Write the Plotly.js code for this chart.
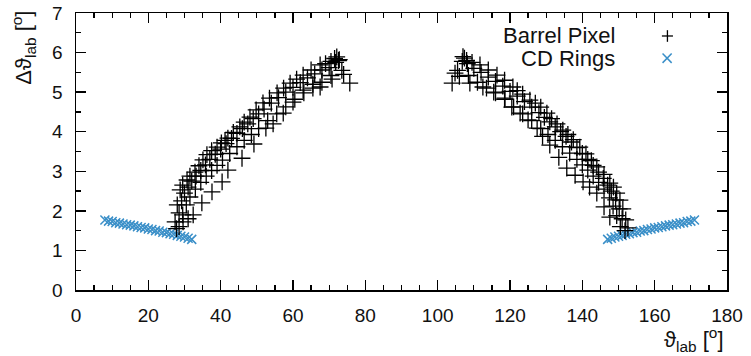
<!DOCTYPE html>
<html>
<head>
<meta charset="utf-8">
<script src="https://cdn.plot.ly/plotly-3.0.1.min.js"></script>
<style>html,body{margin:0;padding:0;background:#fff;}#chart{width:751px;height:356px;}</style>
</head>
<body>
<div id="chart"></div>
<script>
// ---- Barrel Pixel, left branch (several bands) ----
var bpLeftAx = [27.4,28.0,28.8,29.5,30.7,31.5,32.9,34.0,35.1,36.2,37.5,39.0,40.2,41.2,42.0,43.5,45.3,46.5,48.1,49.8,51.7,53.5,55.6,57.4,59.2,61.0,62.8,65.0,67.5,69.0,70.5,71.5,72.1,72.6];
var bpLeftAy = [1.72,2.15,2.53,2.65,2.78,2.88,2.98,3.14,3.29,3.42,3.52,3.61,3.72,3.78,3.84,3.98,4.12,4.24,4.37,4.55,4.73,4.85,4.98,5.10,5.23,5.33,5.43,5.56,5.69,5.72,5.78,5.85,5.89,5.80];
var bpLeftBx = [27.8,28.5,29.2,30.0,31.0,32.0,33.2,34.5,35.8,37.0,38.5,40.0,41.5,43.0,44.5,46.0,47.5,49.0,50.5,52.0,54.0,56.0,58.0,60.0,62.0,64.0,66.0,68.0,70.0,71.8,72.8];
var bpLeftBy = [1.55,1.95,2.25,2.45,2.60,2.75,2.88,3.02,3.16,3.30,3.43,3.56,3.70,3.83,3.96,4.08,4.20,4.33,4.45,4.57,4.72,4.86,5.00,5.12,5.24,5.36,5.46,5.56,5.62,5.75,5.82];
var bpLeftCx = [28.5,29.5,30.5,31.5,33.0,34.5,36.0,37.5,39.0,40.5,42.5,44.5,46.5,48.5,50.5,53.0,55.5,58.0,60.5,63.0,65.5,68.0,70.5,73.5];
var bpLeftCy = [1.60,1.90,2.15,2.35,2.55,2.72,2.88,3.02,3.15,3.28,3.45,3.62,3.78,3.93,4.08,4.28,4.45,4.63,4.82,4.98,5.10,5.25,5.42,5.55];
var bpLeftDx = [29.6,31.0,32.4,34.8,37.6,40.4,42.0,45.9,49.2,52.5,54.5,57.3,60.0,62.8,65.5,67.5,70.8,74.0,75.7];
var bpLeftDy = [1.72,1.80,1.90,2.20,2.48,2.73,3.03,3.33,3.69,4.09,4.20,4.47,4.75,5.05,5.20,5.13,5.33,5.45,5.23];

// ---- Barrel Pixel, right branch ----
var bpRightAx = [152.6,152.0,151.2,150.4,149.5,148.6,147.6,146.0,144.0,142.5,141.0,139.3,137.5,136.0,134.6,133.0,131.5,130.2,128.5,127.0,125.5,123.5,122.0,120.8,118.5,116.4,114.0,111.7,109.5,108.0,107.4,107.0];
var bpRightAy = [1.57,1.77,2.05,2.27,2.45,2.60,2.70,2.92,3.11,3.27,3.44,3.61,3.80,3.93,4.04,4.20,4.33,4.47,4.62,4.72,4.80,4.95,5.04,5.13,5.30,5.43,5.56,5.69,5.75,5.80,5.86,5.90];
var bpRightBx = [151.8,151.0,150.2,149.2,148.0,147.0,145.8,144.5,143.0,141.5,140.0,138.5,137.0,135.5,134.0,132.5,131.0,129.5,128.0,126.0,124.0,122.0,120.0,118.0,116.0,114.0,112.0,110.0,108.2,106.8];
var bpRightBy = [1.50,1.80,2.05,2.28,2.50,2.65,2.82,2.98,3.15,3.30,3.45,3.60,3.74,3.88,4.00,4.12,4.25,4.36,4.48,4.62,4.76,4.90,5.02,5.15,5.27,5.38,5.50,5.60,5.72,5.78];
var bpRightCx = [150.5,149.5,148.5,147.5,146.0,144.5,143.0,141.5,140.0,138.5,136.5,134.5,132.5,130.5,128.5,126.0,123.5,121.0,118.5,116.0,113.5,111.0,108.5,105.5];
var bpRightCy = [1.60,1.88,2.12,2.33,2.55,2.72,2.88,3.03,3.16,3.30,3.46,3.62,3.78,3.93,4.08,4.28,4.45,4.63,4.82,4.98,5.10,5.25,5.42,5.55];
var bpRightDx = [147.6,146.0,144.0,142.0,140.2,138.0,135.7,133.5,131.0,129.0,127.5,125.0,122.8,120.5,118.6,115.5,112.5,108.9,106.0,104.8,104.0];
var bpRightDy = [1.84,2.10,2.45,2.60,2.73,2.90,3.08,3.35,3.66,3.88,4.09,4.30,4.47,4.62,4.85,5.00,5.13,5.23,5.40,5.48,5.23];

// ---- CD Rings ----
var cdLeftX = [8,9,10,11,12,13,14,15,16,17,18,19,20,21,22,23,24,25,26,27,28,29,30,31,32];
var cdLeftY = [1.77,1.74,1.73,1.70,1.69,1.67,1.65,1.64,1.62,1.60,1.58,1.57,1.54,1.53,1.50,1.49,1.46,1.45,1.42,1.41,1.38,1.36,1.34,1.31,1.28];
var cdRightX = [147,148,149,150,151,152,153,154,155,156,157,158,159,160,161,162,163,164,165,166,167,168,169,170,171];
var cdRightY = [1.28,1.31,1.34,1.36,1.38,1.41,1.42,1.45,1.46,1.49,1.50,1.53,1.54,1.57,1.58,1.60,1.62,1.64,1.65,1.67,1.69,1.70,1.73,1.74,1.77];

var legendNames = ["Barrel Pixel", "CD Rings"];
var xTicks = [0,20,40,60,80,100,120,140,160,180];
var yTicks = [0,1,2,3,4,5,6,7];

var bpColor = "#000000";
var cdColor = "#3a8fc8";

var bpX = [].concat(bpLeftAx, bpLeftBx, bpLeftCx, bpLeftDx, bpRightAx, bpRightBx, bpRightCx, bpRightDx);
var bpY = [].concat(bpLeftAy, bpLeftBy, bpLeftCy, bpLeftDy, bpRightAy, bpRightBy, bpRightCy, bpRightDy);
var cdX = [].concat(cdLeftX, cdRightX);
var cdY = [].concat(cdLeftY, cdRightY);

var traces = [
  {x: cdX, y: cdY, type: "scatter", mode: "markers", name: legendNames[1], showlegend: false,
   marker: {symbol: "x-thin-open", size: 9, color: cdColor, line: {color: cdColor, width: 1.5}}},
  {x: bpX, y: bpY, type: "scatter", mode: "markers", name: legendNames[0], showlegend: false,
   marker: {symbol: "cross-thin-open", size: 12, color: bpColor, line: {color: bpColor, width: 1.3}}}
];

var fam = "Liberation Sans, Arial, Helvetica, sans-serif";
var tickFont = {family: fam, size: 19, color: "#111"};
var bigFont = {family: fam, size: 22, color: "#111"};

var axisCommon = {
  showline: true, linecolor: "#000", linewidth: 1.5, mirror: "ticks",
  ticks: "inside", tickcolor: "#000", tickwidth: 1.3, ticklen: 10,
  showgrid: false, zeroline: false, tickfont: tickFont
};

var layout = {
  width: 751, height: 356,
  margin: {l: 76, r: 24, t: 13, b: 66},
  paper_bgcolor: "#fff", plot_bgcolor: "#fff",
  font: tickFont,
  showlegend: false,
  xaxis: Object.assign({}, axisCommon, {
    range: [0, 180], tickvals: xTicks, ticktext: xTicks.map(String), ticklabelstandoff: 8,
    minor: {dtick: 5, tick0: 0, ticks: "inside", ticklen: 5, tickwidth: 1.2, tickcolor: "#000", showgrid: false}
  }),
  yaxis: Object.assign({}, axisCommon, {
    range: [0, 7], tickvals: yTicks, ticktext: yTicks.map(String), ticklabelstandoff: 8,
    minor: {dtick: 0.5, tick0: 0, ticks: "inside", ticklen: 5, tickwidth: 1.2, tickcolor: "#000", showgrid: false}
  }),
  annotations: [
    {text: legendNames[0], xref: "paper", yref: "paper", x: 0.831, y: 0.917, xanchor: "right", yanchor: "middle", showarrow: false, font: bigFont},
    {text: legendNames[1], xref: "paper", yref: "paper", x: 0.831, y: 0.836, xanchor: "right", yanchor: "middle", showarrow: false, font: bigFont},
    {text: "ϑ<sub>lab</sub> [<sup>o</sup>]", xref: "paper", yref: "paper", x: 0.998, y: -0.18, xanchor: "right", yanchor: "middle", showarrow: false, font: bigFont},
    {text: "Δϑ<sub>lab</sub> [<sup>o</sup>]", xref: "paper", yref: "paper", x: -0.08, y: 1.015, xanchor: "center", yanchor: "top", textangle: -90, showarrow: false, font: bigFont}
  ],
  shapes: [
    // legend "+" symbol
    {type: "line", xref: "paper", yref: "paper", x0: 0.900, x1: 0.917, y0: 0.917, y1: 0.917, line: {color: bpColor, width: 1.3}},
    {type: "line", xref: "paper", yref: "paper", x0: 0.9085, x1: 0.9085, y0: 0.896, y1: 0.938, line: {color: bpColor, width: 1.3}},
    // legend "x" symbol
    {type: "line", xref: "paper", yref: "paper", x0: 0.901, x1: 0.915, y0: 0.820, y1: 0.854, line: {color: cdColor, width: 1.5}},
    {type: "line", xref: "paper", yref: "paper", x0: 0.901, x1: 0.915, y0: 0.854, y1: 0.820, line: {color: cdColor, width: 1.5}}
  ]
};

Plotly.newPlot("chart", traces, layout, {staticPlot: true, displayModeBar: false});
</script>
</body>
</html>
